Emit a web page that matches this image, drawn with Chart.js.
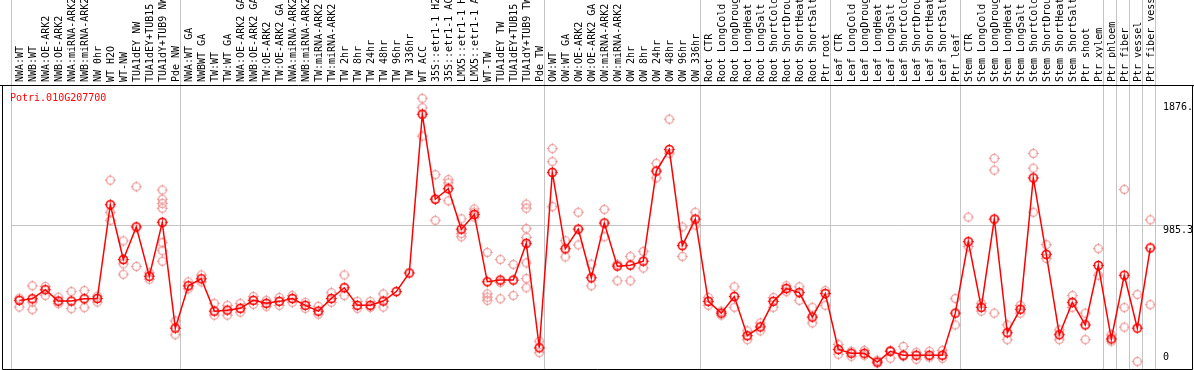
<!DOCTYPE html>
<html><head><meta charset="utf-8">
<script src="https://cdn.jsdelivr.net/npm/chart.js@4.4.1/dist/chart.umd.min.js"></script>
<style>html,body{margin:0;padding:0;background:#fff;overflow:hidden}canvas{display:block}</style>
</head><body>
<canvas id="c" width="1194" height="370"></canvas>
<script>
const title = 'Potri.010G207700';

const categories = [
  'NWA:WT','NWB:WT','NWA:OE-ARK2','NWB:OE-ARK2','NWA:miRNA-ARK2','NWB:miRNA-ARK2','NW 0hr','WT H2O','WT-NW','TUA1dEY NW','TUA1dEY+TUB15 NW','TUA1dY+TUB9 NW','Pde NW',
  'NWA:WT GA','NWBWT GA','TW:WT','TW:WT GA','NWA:OE-ARK2 GA','NWB:OE-ARK2 GA','TW:OE-ARK2','TW:OE-ARK2 GA','NWA:miRNA-ARK2','NWB:miRNA-ARK2','TW:miRNA-ARK2','TW:miRNA-ARK2','TW 2hr','TW 8hr','TW 24hr','TW 48hr','TW 96hr','TW 336hr','WT ACC','35S::etr1-1 H2O','35S::etr1-1 ACC','LMX5::etr1-1 H2O','LMX5::etr1-1 ACC','WT-TW','TUA1dEY TW','TUA1dEY+TUB15 TW','TUA1dY+TUB9 TW','Pde TW',
  'OW:WT','OW:WT GA','OW:OE-ARK2','OW:OE-ARK2 GA','OW:miRNA-ARK2','OW:miRNA-ARK2','OW 2hr','OW 8hr','OW 24hr','OW 48hr','OW 96hr','OW 336hr',
  'Root CTR','Root LongCold','Root LongDrought','Root LongHeat','Root LongSalt','Root ShortCold','Root ShortDrought','Root ShortHeat','Root ShortSalt','Ptr root',
  'Leaf CTR','Leaf LongCold','Leaf LongDrought','Leaf LongHeat','Leaf LongSalt','Leaf ShortCold','Leaf ShortDrought','Leaf ShortHeat','Leaf ShortSalt','Ptr leaf',
  'Stem CTR','Stem LongCold','Stem LongDrought','Stem LongHeat','Stem LongSalt','Stem ShortCold','Stem ShortDrought','Stem ShortHeat','Stem ShortSalt','Ptr shoot','Ptr xylem',
  'Ptr phloem','Ptr fiber','Ptr vessel','Ptr fiber vessel'
];

// index of first category of each group (and the end)
const groupBreaks = [0, 13, 41, 53, 63, 73, 84, 85, 86, 87, 88];

const means = [
  452,463,527,447,447,463,465,1126,740,970,622,1002,256,
  555,604,376,383,396,452,431,445,465,417,376,465,541,417,417,447,514,645,1764,1165,1239,954,1057,583,595,595,854,118,
  1354,815,954,611,997,693,700,728,1363,1515,838,1025,
  445,362,479,203,265,445,535,507,334,500,
  106,79,79,17,93,65,65,65,65,362,
  866,403,1025,224,389,1315,776,210,438,279,698,
  180,629,256,822
];

const replicates = [
  [467,405],[555,440,387],[550,486],[474,429],[514,394],[521,401],[481,440],[1299,1073,1016],[871,709,636],[1253,691],[647,601],[1230,1165,1135,1101,859,802,728],[307,210],
  [582,534],[631,582],[431,348],[417,348],[431,369],[479,424],[452,410],[472,417],[486,438],[438,396],[410,355],[507,438],[631,486],[445,396],[445,403],
  [498,405],[],[],[1876,1810,1610],[1338,1165,1016],[1303,1280,1154],[1027,923,900],[1096,1073,1039],[790,498,474,452],[740,578,463],[705,486],[1130,1101,958,896,716,606,541],[164,84],
  [1522,1430,1113],[873,758],[1073,843],[707,555],[1093,900],[707,590],[762,590],[797,680],[1418,1315],[1729,1488],[970,762],[1073,983],
  [472,417],[376,348],[548,403],[237,175],[293,237],[472,403],[555,514],[548,452],[403,293],[521,417],
  [141,72],[93,58],[99,65],[30,10],[99,44],[127,58],[86,37],[93,51],[99,44],[465,279],
  [1039,831],[431,376],[1453,1370,362],[279,175],[417,362],[1488,1384,1073],[845,748],[244,175],[486,403],[362,175],[817,629],
  [210,164],[1234,401,263],[493,21],[1020,422]
];

const yTickValues = [0, 985.3, 1876];
const yTickLabels = ['0', '985.3', '1876.'];
const yMax = 1970;

const FONT = '10px "DejaVu Sans Mono", monospace';

function makeSprite(color, lw) {
  const c = document.createElement('canvas');
  c.width = 13; c.height = 13;
  const g = c.getContext('2d');
  g.strokeStyle = color;
  g.lineWidth = lw;
  g.beginPath(); g.arc(6.5, 6.5, 4, 0, Math.PI * 2); g.stroke();
  g.lineWidth = 1;
  g.beginPath();
  g.moveTo(6.5, 1); g.lineTo(6.5, 3.5);
  g.moveTo(6.5, 9.5); g.lineTo(6.5, 12);
  g.moveTo(1, 6.5); g.lineTo(3.5, 6.5);
  g.moveTo(9.5, 6.5); g.lineTo(12, 6.5);
  g.stroke();
  return c;
}
const meanSprite = makeSprite('#ff0000', 1.6);
const repSprite = makeSprite('#ee9696', 1.2);

const maxReps = Math.max(...replicates.map(r => r.length));
const repDatasets = [];
for (let j = 0; j < maxReps; j++) {
  repDatasets.push({
    type: 'line',
    data: replicates.map(r => (r[j] === undefined ? null : r[j])),
    showLine: false,
    pointStyle: repSprite,
    pointRadius: 4,
    order: 2,
    clip: false
  });
}

const decor = {
  id: 'decor',
  beforeDraw(chart) {
    const ctx = chart.ctx;
    ctx.save();
    ctx.fillStyle = '#fff';
    ctx.fillRect(0, 0, chart.width, chart.height);
    ctx.restore();
  },
  beforeDatasetsDraw(chart) {
    const ctx = chart.ctx, xs = chart.scales.x, ys = chart.scales.y;
    const step = xs.getPixelForValue(1) - xs.getPixelForValue(0);
    ctx.save();
    ctx.strokeStyle = '#c4c4c4';
    ctx.lineWidth = 1;
    ctx.beginPath();
    groupBreaks.forEach(b => {
      const x = Math.round(xs.getPixelForValue(b) - step / 2 - 1.6) + 0.5;
      ctx.moveTo(x, 0); ctx.lineTo(x, 369);
    });
    const xl = Math.round(xs.getPixelForValue(0) - step / 2 - 1.6) + 0.5;
    const yg = Math.round(ys.getPixelForValue(yTickValues[1])) + 0.5;
    ctx.moveTo(xl, yg); ctx.lineTo(1193, yg);
    ctx.stroke();
    ctx.restore();
  },
  afterDatasetsDraw(chart) {
    const ctx = chart.ctx, ys = chart.scales.y;
    ctx.save();
    ctx.strokeStyle = '#000';
    ctx.lineWidth = 1;
    ctx.beginPath();
    ctx.moveTo(0, 85.5); ctx.lineTo(1194, 85.5);
    ctx.moveTo(2.5, 85.5); ctx.lineTo(2.5, 369.5);
    ctx.lineTo(1192.5, 369.5); ctx.lineTo(1192.5, 85.5);
    ctx.stroke();
    ctx.font = FONT;
    ctx.textAlign = 'left';
    ctx.textBaseline = 'alphabetic';
    ctx.fillStyle = '#ff0000';
    ctx.fillText(title, 10, 101);
    ctx.fillStyle = '#000';
    const offs = [-4.5, 8.5, 12];
    yTickValues.forEach((v, i) => {
      ctx.fillText(yTickLabels[i], 1163, ys.getPixelForValue(v) + offs[i]);
    });
    ctx.restore();
  }
};

new Chart(document.getElementById('c'), {
  data: {
    labels: categories,
    datasets: [
      {
        type: 'line',
        data: means,
        borderColor: '#ff0000',
        borderWidth: 1.5,
        tension: 0,
        pointStyle: meanSprite,
        pointRadius: 4,
        order: 1,
        clip: false
      },
      ...repDatasets
    ]
  },
  options: {
    responsive: false,
    animation: false,
    devicePixelRatio: 1,
    events: [],
    layout: { padding: { left: 12.8, right: 37.2, top: 0, bottom: 0 } },
    plugins: { legend: { display: false }, tooltip: { enabled: false } },
    scales: {
      x: {
        type: 'category',
        position: 'top',
        offset: true,
        grid: { display: false, drawTicks: false },
        border: { display: false },
        ticks: {
          autoSkip: false,
          minRotation: 90,
          maxRotation: 90,
          padding: 3,
          labelOffset: 13,
          color: '#000',
          font: { family: '"DejaVu Sans Mono", monospace', size: 10 }
        },
        afterFit(scale) { scale.height = 85; }
      },
      y: {
        display: false,
        min: 0,
        max: yMax
      }
    }
  },
  plugins: [decor]
});
</script>
</body></html>
